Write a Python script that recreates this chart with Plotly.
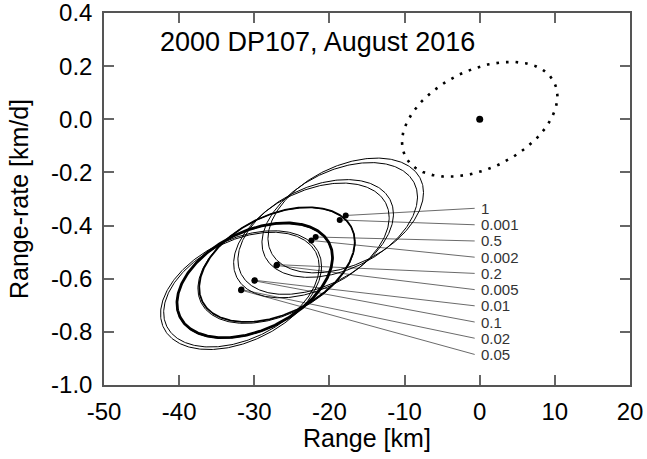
import numpy as np
import plotly.graph_objects as go

# ---------------- data ----------------
solution_labels = ["1", "0.001", "0.5", "0.002", "0.2", "0.005", "0.01", "0.1", "0.02", "0.05"]
center_range = [-17.83, -18.63, -21.83, -22.40, -26.98, -27.05, -29.94, -29.98, -31.71, -31.76]
center_rate = [-0.362, -0.379, -0.443, -0.456, -0.547, -0.550, -0.606, -0.608, -0.641, -0.643]
sigma_scale = [1.0, 1.0, 1.0, 1.0, 1.0, 1.01, 1.0, 1.0, 1.0, 1.035]
label_rate = [-0.335, -0.397, -0.458, -0.519, -0.580, -0.641, -0.702, -0.763, -0.824, -0.885]
label_range = -0.67

nominal_range = 0.0
nominal_rate = 0.0
sigma_range = 10.35     # km half-extent
sigma_rate = 0.216      # km/d half-extent
correlation = 0.40

x_ticks = [-50, -40, -30, -20, -10, 0, 10, 20]
x_ticktext = ["-50", "-40", "-30", "-20", "-10", "0", "10", "20"]
y_ticks = [0.4, 0.2, 0.0, -0.2, -0.4, -0.6, -0.8, -1.0]
y_ticktext = ["0.4", "0.2", "0.0", "-0.2", "-0.4", "-0.6", "-0.8", "-1.0"]

title_text = "2000 DP107, August 2016"
x_title = "Range [km]"
y_title = "Range-rate [km/d]"

# ---------------- styles ----------------
FONT = "Liberation Sans, Arial, Helvetica, sans-serif"
line_widths = {"0.2": 1.8, "0.01": 2.8}


def ellipse(cx, cy, scale, n=361):
    t = np.linspace(0, 2 * np.pi, n)
    x = cx + sigma_range * scale * np.cos(t)
    y = cy + sigma_rate * scale * (correlation * np.cos(t) + np.sqrt(1 - correlation ** 2) * np.sin(t))
    return x, y


fig = go.Figure()

# leader lines
for lab, cx, cy, ly in zip(solution_labels, center_range, center_rate, label_rate):
    fig.add_trace(go.Scatter(x=[cx, label_range], y=[cy, ly], mode="lines",
                             line=dict(color="#444444", width=0.8), hoverinfo="skip",
                             showlegend=False))

# solution ellipses
for lab, cx, cy, s in zip(solution_labels, center_range, center_rate, sigma_scale):
    ex, ey = ellipse(cx, cy, s)
    fig.add_trace(go.Scatter(x=ex, y=ey, mode="lines",
                             line=dict(color="black", width=line_widths.get(lab, 1.0)),
                             showlegend=False, hoverinfo="skip"))

# nominal dotted ellipse
ex, ey = ellipse(nominal_range, nominal_rate, 1.0)
fig.add_trace(go.Scatter(x=ex, y=ey, mode="lines",
                         line=dict(color="black", width=2.6, dash="2.6px,7px"),
                         showlegend=False, hoverinfo="skip"))

# center dots
fig.add_trace(go.Scatter(x=center_range, y=center_rate, mode="markers",
                         marker=dict(color="black", size=6), showlegend=False))
fig.add_trace(go.Scatter(x=[nominal_range], y=[nominal_rate], mode="markers",
                         marker=dict(color="black", size=7), showlegend=False))

# labels
for lab, ly in zip(solution_labels, label_rate):
    fig.add_annotation(x=label_range, y=ly, text=lab, showarrow=False,
                       xanchor="left", yanchor="middle", xshift=4,
                       font=dict(family=FONT, size=15, color="#333333"))

fig.add_annotation(xref="paper", yref="paper", x=0.102, y=0.922, text=title_text,
                   showarrow=False, xanchor="left", yanchor="middle",
                   font=dict(family=FONT, size=27, color="black"))

fig.add_annotation(xref="paper", yref="paper", x=0.5, y=-0.142, text=x_title,
                   showarrow=False, xanchor="center", yanchor="middle",
                   font=dict(family=FONT, size=25, color="black"))

axis_common = dict(showgrid=False, zeroline=False, showline=True, linecolor="#555555",
                   linewidth=1.5, ticks="inside", ticklen=10, tickcolor="#666666",
                   tickwidth=1.5, mirror="allticks", automargin=False,
                   ticklabeloverflow="allow",
                   tickfont=dict(family=FONT, size=24, color="black"))

fig.update_xaxes(range=[-50, 20], tickmode="array", tickvals=x_ticks, ticktext=x_ticktext,
                 ticklabelstandoff=4, **axis_common)
fig.update_yaxes(range=[-1.0, 0.4], tickmode="array", tickvals=y_ticks, ticktext=y_ticktext,
                 title=dict(text=y_title, font=dict(family=FONT, size=25, color="black"),
                            standoff=15),
                 ticklabelstandoff=5, **axis_common)

fig.update_layout(width=647, height=459, margin=dict(l=104, r=17, t=13, b=74),
                  plot_bgcolor="white", paper_bgcolor="white",
                  font=dict(family=FONT))

fig.write_html("out.html")
